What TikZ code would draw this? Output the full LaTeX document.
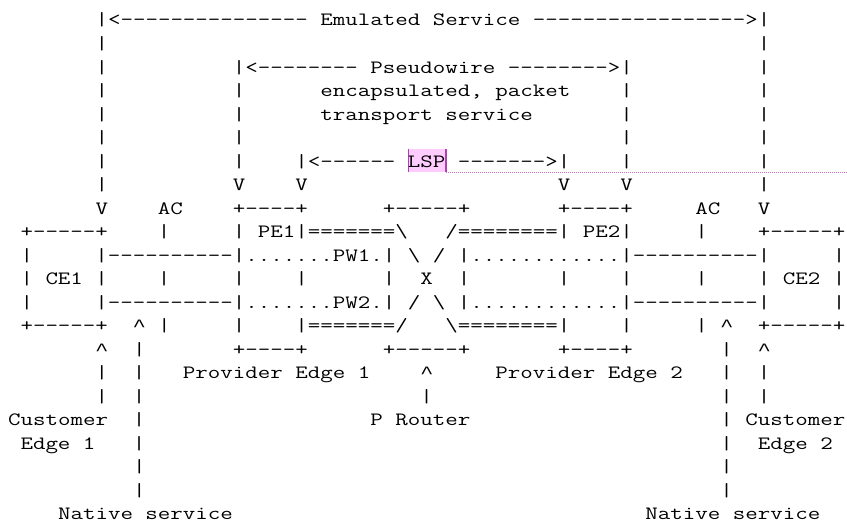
\documentclass[tikz,border=0pt]{standalone}
\usepackage{graphicx}
\usepackage{fontspec}
\newfontfamily\carfont{Liberation Mono}
\definecolor{hlpink}{HTML}{FFCCFF}
\definecolor{hlline}{HTML}{B040B0}
\definecolor{hldot}{HTML}{CC77CC}
\newlength\cw
\newcount\dcnt
\newcommand\ascf{\fontsize{14.1pt}{17pt}\selectfont\ttfamily\frenchspacing}
\newcommand\sk[1]{\hspace*{#1\cw}}
\newcommand\dsh[1]{\dcnt=#1\relax\loop\ifnum\dcnt>0 -\kern0pt\advance\dcnt by -1\repeat}
\newcommand\bs{\textbackslash}
\newcommand\up{\makebox[\cw][c]{\carfont\fontsize{13pt}{17pt}\selectfont\textasciicircum}}
\tikzset{
  ascii/.style={anchor=base west, inner sep=0pt, outer sep=0pt, text=black},
}
\newcommand\aline[3]{\node[ascii] (#1) at (8,{26+(#2-1)*23.52}) {\scalebox{\xs}[1]{\ascf #3}};}
\begin{document}
\settowidth{\cw}{\ascf 0}
\pgfmathsetmacro\xs{9.375/\cw}
\begin{tikzpicture}[x=0.75pt,y=-0.75pt]
\useasboundingbox (0,0) rectangle (847,523);
% highlight of LSP
\fill[hlpink] (408.5,149) rectangle (446,171.7);
\draw[hlline,line width=0.8pt] (408.5,149) -- (408.5,171.7);
\draw[hlline,line width=0.8pt] (446,149) -- (446,172.2);
\draw[hldot,line width=0.6pt,dash pattern=on 0.75pt off 0.75pt] (446,172) -- (847,172);
% text lines
\aline{l1}{1}{\sk{7}|<\dsh{15} Emulated Service \dsh{17}>|}
\aline{l2}{2}{\sk{7}|\sk{52}|}
\aline{l3}{3}{\sk{7}|\sk{10}|<\dsh{8} Pseudowire \dsh{8}>|\sk{10}|}
\aline{l4}{4}{\sk{7}|\sk{10}|\sk{6}encapsulated, packet\sk{4}|\sk{10}|}
\aline{l5}{5}{\sk{7}|\sk{10}|\sk{6}transport service\sk{7}|\sk{10}|}
\aline{l6}{6}{\sk{7}|\sk{10}|\sk{30}|\sk{10}|}
\aline{l7}{7}{\sk{7}|\sk{10}|\sk{4}|<\dsh{6} LSP \dsh{7}>|\sk{4}|\sk{10}|}
\aline{l8}{8}{\sk{7}|\sk{10}V\sk{4}V\sk{20}V\sk{4}V\sk{10}|}
\aline{l9}{9}{\sk{7}V\sk{4}AC\sk{4}+\dsh{4}+\sk{6}+\dsh{5}+\sk{7}+\dsh{4}+\sk{5}AC\sk{3}V}
\aline{l10}{10}{\sk{1}+\dsh{5}+\sk{4}|\sk{5}|\sk{1}PE1|=======\bs\sk{3}/========|\sk{1}PE2|\sk{5}|\sk{4}+\dsh{5}+}
\aline{l11}{11}{\sk{1}|\sk{5}|\dsh{10}|.......PW1.|\sk{1}\bs\sk{1}/\sk{1}|............|\dsh{10}|\sk{5}|}
\aline{l12}{12}{\sk{1}|\sk{1}CE1\sk{1}|\sk{4}|\sk{5}|\sk{4}|\sk{6}|\sk{2}X\sk{2}|\sk{7}|\sk{4}|\sk{5}|\sk{4}|\sk{1}CE2\sk{1}|}
\aline{l13}{13}{\sk{1}|\sk{5}|\dsh{10}|.......PW2.|\sk{1}/\sk{1}\bs\sk{1}|............|\dsh{10}|\sk{5}|}
\aline{l14}{14}{\sk{1}+\dsh{5}+\sk{2}\up\sk{1}|\sk{5}|\sk{4}|=======/\sk{3}\bs========|\sk{4}|\sk{5}|\sk{1}\up\sk{2}+\dsh{5}+}
\aline{l15}{15}{\sk{7}\up\sk{2}|\sk{7}+\dsh{4}+\sk{6}+\dsh{5}+\sk{7}+\dsh{4}+\sk{7}|\sk{2}\up}
\aline{l16}{16}{\sk{7}|\sk{2}|\sk{3}Provider Edge 1\sk{4}\up\sk{5}Provider Edge 2\sk{3}|\sk{2}|}
\aline{l17}{17}{\sk{7}|\sk{2}|\sk{22}|\sk{23}|\sk{2}|}
\aline{l18}{18}{Customer\sk{2}|\sk{18}P Router\sk{20}|\sk{1}Customer}
\aline{l19}{19}{\sk{1}Edge 1\sk{3}|\sk{46}|\sk{2}Edge 2}
\aline{l20}{20}{\sk{10}|\sk{46}|}
\aline{l21}{21}{\sk{10}|\sk{46}|}
\aline{l22}{22}{\sk{4}Native service\sk{33}Native service}
\end{tikzpicture}
\end{document}
